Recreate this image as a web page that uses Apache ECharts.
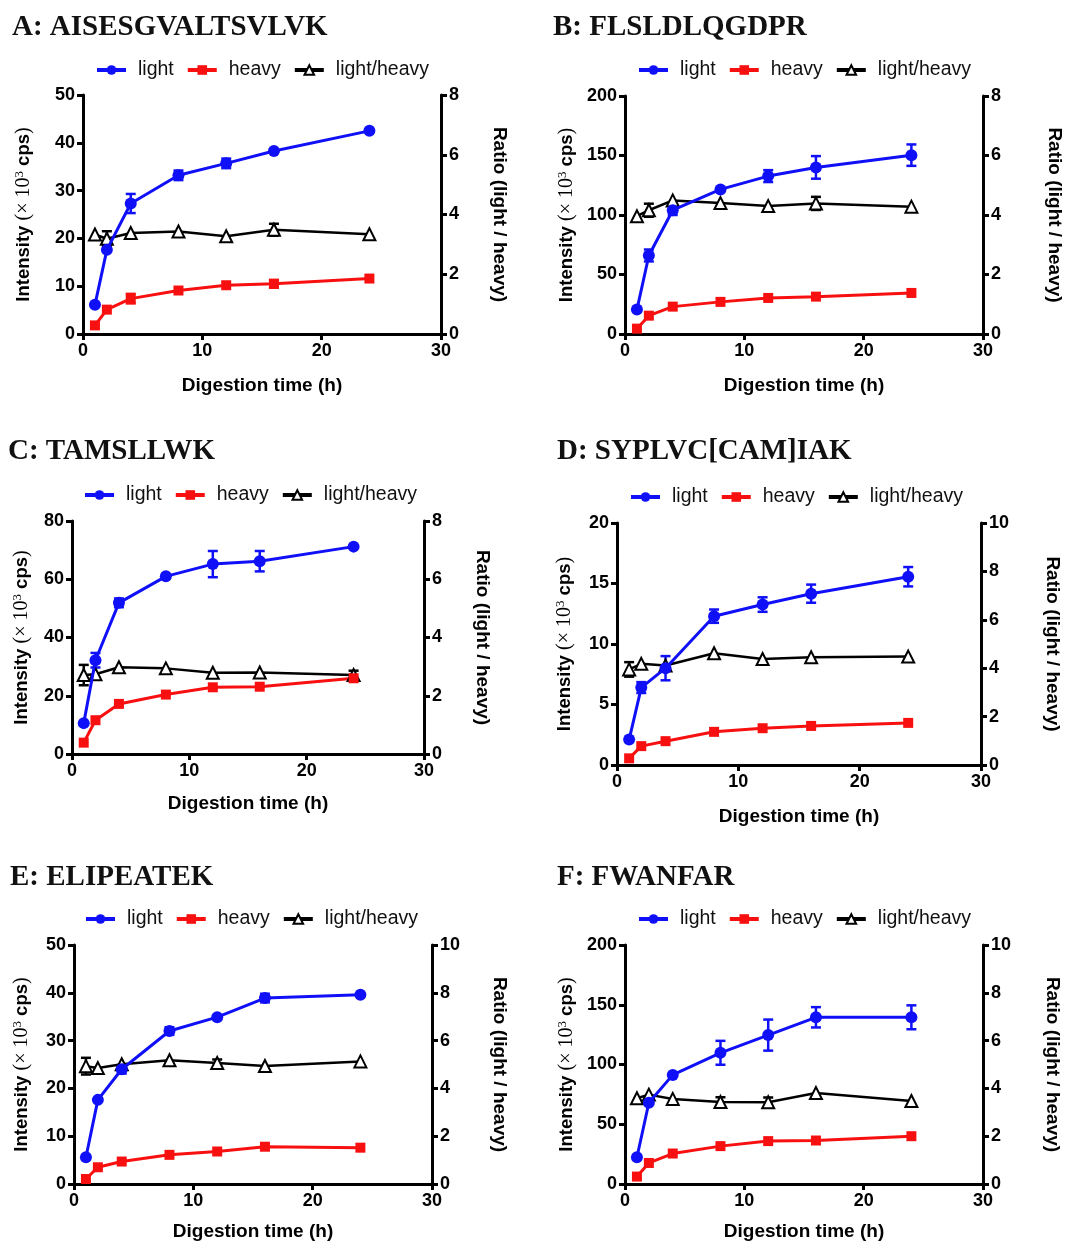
<!DOCTYPE html>
<html>
<head>
<meta charset="utf-8">
<script src="https://cdn.jsdelivr.net/npm/echarts@6/dist/echarts.min.js"></script>
<style>
  body { margin: 0; background: #fff; }
  #main { width: 1067px; height: 1245px; }
</style>
</head>
<body>
<div id="main"></div>
<script>
// digestion time points (h)
const time = [1, 2, 4, 8, 12, 16, 24];

// A: AISESGVALTSVLVK
const lightA = [6.1, 17.6, 27.3, 33.2, 35.7, 38.3, 42.5];
const lightErrA = [0, 0, 2.0, 1.0, 1.0, 0, 0];
const heavyA = [1.8, 5.1, 7.4, 9.1, 10.2, 10.5, 11.6];
const heavyErrA = [0, 0, 1.0, 0, 0, 0.8, 0];
const ratioA = [3.33, 3.19, 3.38, 3.43, 3.27, 3.49, 3.34];
const ratioErrA = [0, 0.25, 0, 0, 0, 0.2, 0];

// B: FLSLDLQGDPR
const lightB = [20.5, 66, 104, 121.5, 132.7, 140, 150.3];
const lightErrB = [0, 5, 4, 0, 5, 9.5, 9];
const heavyB = [4.5, 15.4, 23, 27, 30.3, 31.4, 34.5];
const heavyErrB = [0, 0, 0, 0, 0, 0, 0];
const ratioB = [3.96, 4.16, 4.49, 4.4, 4.3, 4.39, 4.28];
const ratioErrB = [0, 0.22, 0, 0, 0, 0.22, 0];

// C: TAMSLLWK
const lightC = [10.6, 32.2, 51.9, 61, 65.2, 66.2, 71.2];
const lightErrC = [0, 2.5, 1.5, 0, 4.5, 3.5, 0];
const heavyC = [3.9, 11.6, 17.2, 20.4, 22.9, 23.1, 26];
const heavyErrC = [0, 0, 0, 0, 0, 0, 0];
const ratioC = [2.71, 2.74, 2.98, 2.94, 2.79, 2.8, 2.71];
const ratioErrC = [0.35, 0, 0, 0, 0, 0, 0.15];

// D: SYPLVC[CAM]IAK
const lightD = [2.1, 6.4, 8.0, 12.3, 13.26, 14.16, 15.56];
const lightErrD = [0, 0.45, 1.0, 0.55, 0.6, 0.75, 0.8];
const heavyD = [0.55, 1.56, 1.97, 2.74, 3.04, 3.23, 3.48];
const heavyErrD = [0, 0, 0, 0, 0, 0, 0];
const ratioD = [3.95, 4.18, 4.11, 4.62, 4.38, 4.45, 4.48];
const ratioErrD = [0.3, 0, 0, 0, 0, 0, 0];

// E: ELIPEATEK
const lightE = [5.6, 17.6, 24, 32, 34.9, 38.9, 39.6];
const lightErrE = [0, 0, 0.9, 0.8, 0, 0.9, 0];
const heavyE = [1.05, 3.5, 4.7, 6.1, 6.8, 7.8, 7.6];
const heavyErrE = [0, 0, 0, 0, 0, 0, 0];
const ratioE = [4.93, 4.85, 5.01, 5.18, 5.06, 4.94, 5.13];
const ratioErrE = [0.35, 0, 0, 0, 0.15, 0, 0];

// F: FWANFAR
const lightF = [22.4, 68, 91.3, 109.8, 124.6, 139.5, 139.5];
const lightErrF = [0, 0, 0, 10, 13, 8.5, 10];
const heavyF = [6.2, 17.6, 25.5, 31.7, 35.9, 36.4, 40];
const heavyErrF = [0, 0, 0, 0, 0, 0, 0];
const ratioF = [3.59, 3.74, 3.56, 3.43, 3.42, 3.81, 3.47];
const ratioErrF = [0, 0, 0, 0.2, 0.2, 0, 0];

// panel titles and axis ranges
const titles = ['A: AISESGVALTSVLVK', 'B: FLSLDLQGDPR', 'C: TAMSLLWK',
                'D: SYPLVC[CAM]IAK', 'E: ELIPEATEK', 'F: FWANFAR'];
const intensityMax = [50, 200, 80, 20, 50, 200];
const intensityStep = [10, 50, 20, 5, 10, 50];
const ratioMax = [8, 8, 8, 10, 10, 10];
const legendNames = ['light', 'heavy', 'light/heavy'];

const panels = [
  [lightA, lightErrA, heavyA, heavyErrA, ratioA, ratioErrA],
  [lightB, lightErrB, heavyB, heavyErrB, ratioB, ratioErrB],
  [lightC, lightErrC, heavyC, heavyErrC, ratioC, ratioErrC],
  [lightD, lightErrD, heavyD, heavyErrD, ratioD, ratioErrD],
  [lightE, lightErrE, heavyE, heavyErrE, ratioE, ratioErrE],
  [lightF, lightErrF, heavyF, heavyErrF, ratioF, ratioErrF]
];

// page layout (pixels) for each panel
const layout = [
  {left: 83,  top: 95,  w: 358, h: 239, tx: 12,  ty: 13,  lx: 95,  ly: 60,  gapL: 48, gapR: 49, gapX: 42},
  {left: 625, top: 96,  w: 358, h: 238, tx: 553, ty: 13,  lx: 637, ly: 60,  gapL: 47, gapR: 62, gapX: 42},
  {left: 72,  top: 521, w: 352, h: 233, tx: 8,   ty: 437, lx: 83,  ly: 485, gapL: 39, gapR: 49, gapX: 40},
  {left: 617, top: 523, w: 364, h: 242, tx: 557, ty: 437, lx: 629, ly: 487, gapL: 41, gapR: 62, gapX: 42},
  {left: 74,  top: 945, w: 358, h: 239, tx: 10,  ty: 863, lx: 84,  ly: 909, gapL: 41, gapR: 58, gapX: 38},
  {left: 625, top: 945, w: 358, h: 239, tx: 557, ty: 863, lx: 637, ly: 909, gapL: 47, gapR: 60, gapX: 38}
];

const SANS = 'Liberation Sans';
const BLUE = '#1010f8', RED = '#f81010', BLACK = '#000';

function axisStyle() {
  return {
    axisLine: {show: true, lineStyle: {color: '#000', width: 3}},
    axisTick: {show: true, length: 6, lineStyle: {color: '#000', width: 3}},
    axisLabel: {color: '#000', fontFamily: SANS, fontWeight: 'bold', fontSize: 18, margin: 8},
    splitLine: {show: false}
  };
}

function errRender(color) {
  return function (params, api) {
    const x = api.value(0), y = api.value(1), e = api.value(2);
    if (!e) return null;
    const hi = api.coord([x, y + e]);
    const lo = api.coord([x, y - e]);
    const hw = 5;
    const st = {stroke: color, lineWidth: 2.5};
    return {
      type: 'group',
      children: [
        {type: 'line', shape: {x1: hi[0], y1: hi[1], x2: lo[0], y2: lo[1]}, style: st},
        {type: 'line', shape: {x1: hi[0] - hw, y1: hi[1], x2: hi[0] + hw, y2: hi[1]}, style: st},
        {type: 'line', shape: {x1: lo[0] - hw, y1: lo[1], x2: lo[0] + hw, y2: lo[1]}, style: st}
      ]
    };
  };
}

const option = {
  backgroundColor: '#fff',
  animation: false,
  title: [], legend: [], grid: [], xAxis: [], yAxis: [], series: []
};

panels.forEach((p, i) => {
  const L = layout[i];
  option.title.push({
    text: titles[i], left: L.tx, top: L.ty, padding: 0,
    textStyle: {fontFamily: 'Liberation Serif', fontWeight: 'bold', fontSize: 29, color: '#111'}
  });
  option.legend.push({
    data: legendNames, left: L.lx, top: L.ly, padding: 0,
    itemWidth: 29, itemHeight: 12, itemGap: 12,
    lineStyle: {width: 4},
    textStyle: {fontFamily: SANS, fontSize: 19.5, color: '#111', padding: [0, 0, 0, 7]}
  });
  option.grid.push({left: L.left, top: L.top, width: L.w, height: L.h});
  option.xAxis.push(Object.assign(axisStyle(), {
    type: 'value', gridIndex: i, min: 0, max: 30, interval: 10,
    name: 'Digestion time (h)', nameLocation: 'middle', nameGap: L.gapX,
    nameTextStyle: {fontFamily: SANS, fontWeight: 'bold', fontSize: 19, color: '#000'}
  }));
  option.yAxis.push(Object.assign(axisStyle(), {
    type: 'value', gridIndex: i, position: 'left', min: 0,
    max: intensityMax[i], interval: intensityStep[i],
    name: '{b|Intensity }{s|(× 10}{p|3}{b| cps}{s|)}',
    nameLocation: 'middle', nameGap: L.gapL,
    nameTextStyle: {
      rich: {
        b: {fontFamily: SANS, fontWeight: 'bold', fontSize: 18.5, color: '#000', lineHeight: 22},
        s: {fontFamily: 'Liberation Serif', fontSize: 20, color: '#000', lineHeight: 22},
        p: {fontFamily: 'Liberation Serif', fontSize: 13, color: '#000', lineHeight: 10, verticalAlign: 'top'}
      }
    }
  }));
  option.yAxis.push(Object.assign(axisStyle(), {
    type: 'value', gridIndex: i, position: 'right', min: 0,
    max: ratioMax[i], interval: 2,
    name: 'Ratio (light / heavy)', nameLocation: 'middle', nameGap: L.gapR, nameRotate: -90,
    nameTextStyle: {fontFamily: SANS, fontWeight: 'bold', fontSize: 19, color: '#000'}
  }));

  const [light, lightErr, heavy, heavyErr, ratio, ratioErr] = p;
  const yL = i * 2, yR = i * 2 + 1;
  const pts = (v) => time.map((t, k) => [t, v[k]]);
  const errPts = (v, e) => time.map((t, k) => [t, v[k], e[k]]);

  // error bars first, under the symbols
  [[light, lightErr, BLUE, yL, 'light err'],
   [heavy, heavyErr, RED, yL, 'heavy err'],
   [ratio, ratioErr, BLACK, yR, 'ratio err']].forEach(([v, e, c, yi, nm]) => {
    option.series.push({
      type: 'custom', name: nm, xAxisIndex: i, yAxisIndex: yi, z: 1,
      encode: {x: 0, y: 1}, renderItem: errRender(c), data: errPts(v, e)
    });
  });

  option.series.push({
    type: 'line', name: 'light/heavy', xAxisIndex: i, yAxisIndex: yR, z: 3,
    data: pts(ratio), symbol: 'emptyTriangle', symbolSize: 12,
    lineStyle: {color: BLACK, width: 2.5},
    itemStyle: {color: BLACK, borderWidth: 2}
  });
  option.series.push({
    type: 'line', name: 'heavy', xAxisIndex: i, yAxisIndex: yL, z: 3,
    data: pts(heavy), symbol: 'rect', symbolSize: 10,
    lineStyle: {color: RED, width: 3}, itemStyle: {color: RED}
  });
  option.series.push({
    type: 'line', name: 'light', xAxisIndex: i, yAxisIndex: yL, z: 4,
    data: pts(light), symbol: 'circle', symbolSize: 12,
    lineStyle: {color: BLUE, width: 3}, itemStyle: {color: BLUE}
  });
});

const chart = echarts.init(document.getElementById('main'));
chart.setOption(option);
</script>
</body>
</html>
